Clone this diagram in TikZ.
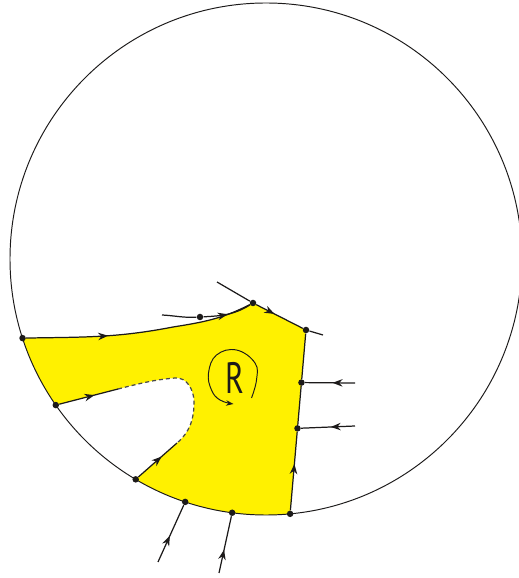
\documentclass[tikz,border=0pt]{standalone}
\usepackage{graphicx}
\usepackage{fontspec}
\setsansfont{PT Sans}
\usetikzlibrary{arrows.meta,calc,backgrounds,decorations.markings}
\definecolor{rfill}{HTML}{FFF100}
\definecolor{rink}{HTML}{1C1A1A}
\definecolor{rgrey}{HTML}{4A4A4A}
\tikzset{
  rdot/.style={circle, fill=rink, inner sep=0pt, minimum size=0.13cm},
  rline/.style={draw=rink, line width=0.7pt},
  rflow/.style={rline, postaction={decorate},
    decoration={markings, mark=at position #1 with
      {\arrow{Stealth[length=0.2cm,width=0.15cm]}}}},
  rdash/.style={draw=rgrey, line width=0.7pt, dash pattern=on 0.08cm off 0.06cm},
}

\begin{document}
\begin{tikzpicture}[x=0.02cm,y=0.02cm]
\useasboundingbox (0,0) rectangle (519,578);

% the disc and the points on its rim
\coordinate (c) at (266,319);
\node[rdot] (A) at ($(c)+(198.0:256)$) {};
\node[rdot] (J) at ($(c)+(214.8:256)$) {};
\node[rdot] (I) at ($(c)+(239.4:256)$) {};
\node[rdot] (H) at ($(c)+(251.6:256)$) {};
\node[rdot] (G) at ($(c)+(262.4:256)$) {};
\node[rdot] (F) at ($(c)+(275.4:256)$) {};

% points inside
\node[rdot] (B2) at (200,261) {};
\node[rdot] (B3) at (253,275) {};
\node[rdot] (C) at (306,248) {};
\node[rdot] (D) at ($(F)!0.714!(C)$) {};
\node[rdot] (E) at ($(F)!0.465!(C)$) {};

% free ends and bends
\coordinate (B1) at (162,263);
\coordinate (K) at (173,251);
\coordinate (L0) at (217,296);
\coordinate (L1) at (323,243);
\coordinate (Din) at (355,195);
\coordinate (Ein) at (355,152);
\coordinate (Hin) at (158,16);
\coordinate (Gin) at (219,5);
\coordinate (M) at (118,189);
\coordinate (N) at (175,200);
\coordinate (Q) at (194,176);
\coordinate (P) at (177,135);

% region R
\begin{pgfonlayer}{background}
  \begin{scope}
    \clip (c) circle[radius=256];
    \fill[rfill] (A.center) to[out=1,in=191] (K) to[out=9,in=207] (B3.center)
      -- (C.center) -- (F.center) -- (300,20) -- (100,30) -- (I.center) -- (P)
      to[out=41,in=-90] (Q) to[out=90,in=5] (N) to[out=185,in=14] (M)
      -- (J.center) -- (0,150) -- (0,240) -- cycle;
  \end{scope}
\end{pgfonlayer}

\draw[rline,line width=0.55pt] (c) circle[radius=256];

% top edge
\draw[rflow=0.36] (A) to[out=1,in=191] (K) to[out=9,in=207] (B3);
\draw[rline] (B1) to[out=-3,in=183] (B2);
\draw[rflow=0.5] (B2) to[out=3,in=212] (B3);
\draw[rflow=0.56] (L0) -- (B3) -- (C) -- (L1);

% right edge
\draw[rflow=0.59] (F) -- (E);
\draw[rline] (E) -- (D) -- (C);
\draw[rflow=0.45] (Din) -- (D);
\draw[rflow=0.45] (Ein) -- (E);

% bottom
\draw[rflow=0.46] (Hin) -- (H);
\draw[rflow=0.41] (Gin) -- (G);

% the hole
\draw[rflow=0.6] (J) -- (M);
\draw[rflow=0.6] (I) -- (P);
\draw[rdash] (M) to[out=14,in=185] (N) to[out=5,in=90] (Q) to[out=-90,in=41] (P);

% label
\node[font=\sffamily\fontsize{25}{25}\selectfont, text=rink, inner sep=0pt] (R)
  at (234.5,200) {\scalebox{0.72}[1]{R}};
\draw[rline, line width=0.55pt, -{Stealth[length=0.15cm,width=0.11cm]}, shift={(R.center)}]
  plot[smooth, tension=0.7] coordinates {(17,-20) (22,-2) (20.5,15) (2,28)
  (-18,23) (-26,5) (-23,-12) (-14.5,-22) (-1,-26)};

\end{tikzpicture}
\end{document}
